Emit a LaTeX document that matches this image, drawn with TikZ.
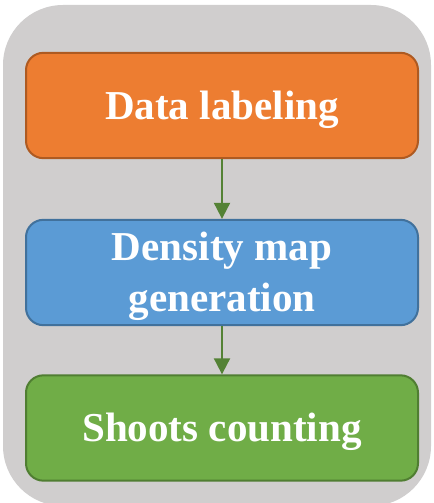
\documentclass[tikz,border=0pt]{standalone}
\usepackage{fontspec}
\setmainfont{Liberation Serif}
\usetikzlibrary{arrows.meta}
\definecolor{panelgray}{HTML}{D0CECE}
\definecolor{labelorange}{HTML}{ED7D31}
\definecolor{labelorangeline}{HTML}{AE5A21}
\definecolor{mapblue}{HTML}{5B9BD5}
\definecolor{mapblueline}{HTML}{41719C}
\definecolor{countgreen}{HTML}{70AD47}
\definecolor{countgreenline}{HTML}{507E32}
\definecolor{arrowgreen}{HTML}{548235}
\tikzset{
  stagebox/.style={draw, rounded corners=13pt, line width=1.5pt,
    minimum width=294pt, minimum height=79pt},
  stagetext/.style={align=center, text=white, yshift=-3pt,
    font=\fontsize{30.8}{38}\selectfont\bfseries},
  flow/.style={draw=arrowgreen, line width=1.5pt,
    -{Triangle[length=12pt,width=12pt]}}
}
\begin{document}
\begin{tikzpicture}[x=0.75pt,y=-0.75pt]
				\useasboundingbox (0,0) rectangle (433,503);
				\fill[panelgray, rounded corners=45pt] (3,5) rectangle (431,506);
				\node[stagebox, fill=labelorange, draw=labelorangeline,
				  label={[stagetext]center:Data labeling}] (label) at (222,105.5) {};
				\node[stagebox, fill=mapblue, draw=mapblueline,
				  label={[stagetext]center:Density map\\generation}] (density) at (222,272.5) {};
				\node[stagebox, fill=countgreen, draw=countgreenline,
				  label={[stagetext]center:Shoots counting}] (count) at (222,428) {};
				\draw[flow] (label) -- (density);
				\draw[flow] (density) -- (count);
			\end{tikzpicture}
\end{document}
